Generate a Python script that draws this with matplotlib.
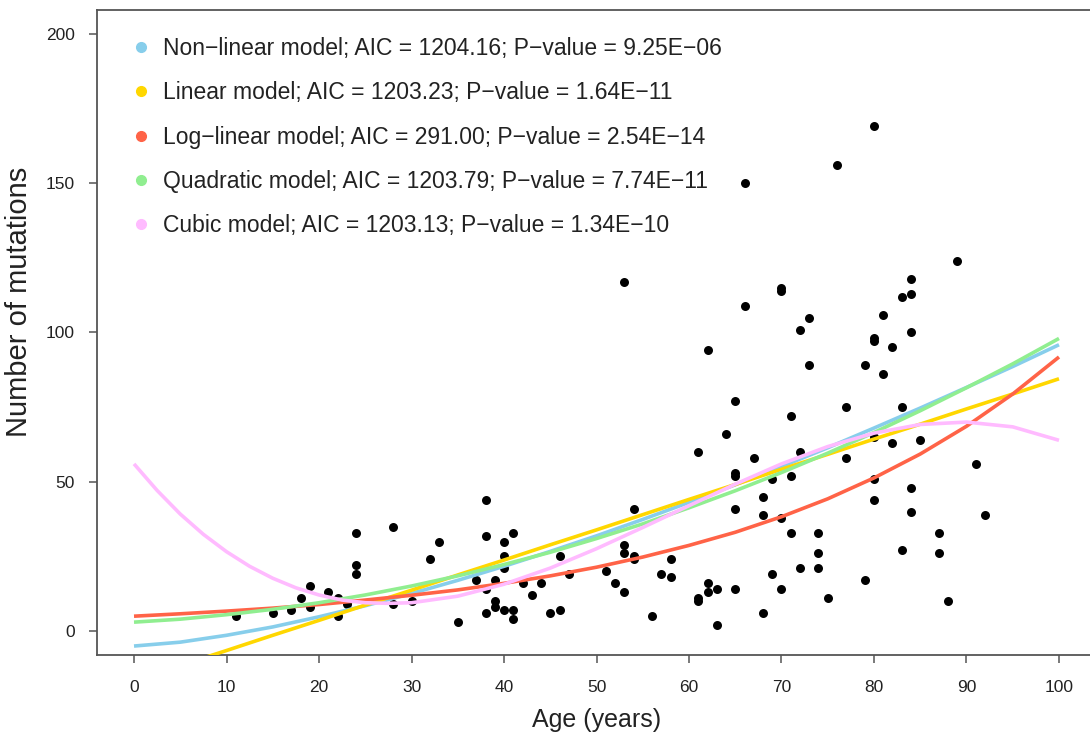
import matplotlib
matplotlib.use('Agg')
import matplotlib.pyplot as plt

plt.rcParams['font.family'] = ['Liberation Sans', 'DejaVu Sans']

# observed samples
ages = [11, 15, 17, 18, 19, 19, 21, 22, 22, 23, 24, 24, 24, 28, 28, 30, 32, 33, 35, 37,
        38, 38, 38, 38, 39, 39, 39, 40, 40, 40, 40, 41, 41, 41, 42, 43, 44, 45, 46, 46,
        47, 51, 52, 53, 53, 53, 53, 54, 54, 54, 56, 57, 58, 58, 61, 61, 61, 62, 62, 62,
        63, 63, 64, 65, 65, 65, 65, 65, 66, 66, 67, 68, 68, 68, 69, 69, 70, 70, 70, 70,
        71, 71, 71, 72, 72, 72, 73, 73, 74, 74, 74, 75, 76, 77, 77, 79, 79, 80, 80, 80,
        80, 80, 80, 81, 81, 82, 82, 83, 83, 83, 84, 84, 84, 84, 84, 85, 87, 87, 88, 89,
        91, 92]
mutations = [5, 6, 7, 11, 15, 8, 13, 11, 5, 9, 33, 22, 19, 35, 9, 10, 24, 30, 3, 17,
             44, 32, 14, 6, 17, 10, 8, 30, 25, 21, 7, 33, 7, 4, 16, 12, 16, 6, 7, 25,
             19, 20, 16, 13, 29, 26, 117, 41, 25, 24, 5, 19, 24, 18, 60, 11, 10, 94, 16, 13,
             14, 2, 66, 77, 53, 52, 41, 14, 150, 109, 58, 45, 39, 6, 51, 19, 115, 114, 38, 14,
             72, 52, 33, 101, 60, 21, 105, 89, 33, 26, 21, 11, 156, 75, 58, 89, 17, 169, 98, 97,
             65, 51, 44, 106, 86, 95, 63, 112, 75, 27, 118, 113, 100, 48, 40, 64, 33, 26, 10, 124,
             56, 39]

curve_age = [0, 5, 10, 15, 20, 25, 30, 35, 40, 45, 50, 55, 60, 65, 70, 75, 80, 85, 90, 95, 100]
nonlinear_fit = [-5.0, -3.7, -1.4, 1.4, 4.8, 8.5, 12.6, 17.0, 21.7, 26.7, 31.9, 37.4, 43.1,
                 49.0, 55.1, 61.4, 68.0, 74.7, 81.6, 88.6, 95.9]
linear_fit = [-16.6, -11.5, -6.5, -1.4, 3.6, 8.7, 13.7, 18.8, 23.8, 28.9, 33.9, 39.0, 44.1,
              49.1, 54.2, 59.2, 64.3, 69.3, 74.4, 79.4, 84.5]
loglinear_fit = [5.0, 5.8, 6.7, 7.7, 8.9, 10.4, 12.0, 13.8, 16.0, 18.5, 21.4, 24.8, 28.7,
                 33.1, 38.3, 44.3, 51.3, 59.3, 68.6, 79.4, 91.8]
quadratic_fit = [3.0, 4.0, 5.5, 7.3, 9.5, 12.1, 15.1, 18.5, 22.3, 26.4, 31.0, 35.9, 41.3,
                 47.0, 53.1, 59.6, 66.5, 73.8, 81.5, 89.5, 98.0]
# cubic bends hard at the start, so it is read more closely there
cubic_age = [0, 2.5, 5, 7.5, 10, 12.5, 15, 17.5, 20, 22.5, 25, 27.5, 30, 35, 40, 45, 50,
             55, 60, 65, 70, 75, 80, 85, 90, 95, 100]
cubic_fit = [56.0, 47.1, 39.2, 32.4, 26.6, 21.7, 17.7, 14.5, 12.1, 10.4, 9.5, 9.3, 9.5,
             11.7, 15.7, 21.1, 27.6, 34.7, 42.0, 49.2, 56.0, 61.8, 66.3, 69.2, 70.0, 68.4, 63.9]

labels = ["Non\u2212linear model; AIC = 1204.16; P\u2212value = 9.25E\u221206",
          "Linear model; AIC = 1203.23; P\u2212value = 1.64E\u221211",
          "Log\u2212linear model; AIC = 291.00; P\u2212value = 2.54E\u221214",
          "Quadratic model; AIC = 1203.79; P\u2212value = 7.74E\u221211",
          "Cubic model; AIC = 1203.13; P\u2212value = 1.34E\u221210"]
colors = ['#87CEEB', '#FFD700', '#FF6347', '#90EE90', '#FFBBFF']
fits = [(curve_age, nonlinear_fit), (curve_age, linear_fit), (curve_age, loglinear_fit),
        (curve_age, quadratic_fit), (cubic_age, cubic_fit)]

fig = plt.figure(figsize=(10.9, 7.45), dpi=100)
ax = fig.add_axes([0.089, 0.1208, 0.9165, 0.8658])

ax.scatter(ages, mutations, s=42, color='black', zorder=2, linewidths=0)
for (xs, ys), col in zip(fits, colors):
    ax.plot(xs, ys, color=col, lw=2.6, zorder=3, solid_capstyle='butt')

ax.set_xlim(-4, 104)
ax.set_ylim(-8, 208)
ax.set_xticks(range(0, 101, 10))
ax.set_yticks([0, 50, 100, 150, 200])
for sp in ax.spines.values():
    sp.set_color('#555555')
    sp.set_linewidth(1.3)
ax.tick_params(axis='both', direction='out', length=6, width=1.1, color='#555555',
               labelsize=12.5, labelcolor='#222222')
ax.tick_params(axis='x', pad=12)
ax.tick_params(axis='y', pad=10)
ax.set_xlabel("Age (years)", fontsize=18, color='#222222')
ax.set_ylabel("Number of mutations", fontsize=21, color='#222222')
ax.xaxis.set_label_coords(0.5, -0.082)
ax.yaxis.set_label_coords(-0.064, 0.547)

handles = [plt.Line2D([], [], marker='o', ls='', color=c, markersize=7) for c in colors]
ax.legend(handles, labels, loc='upper left', bbox_to_anchor=(0.012, 0.99), frameon=False,
          fontsize=16.5, handletextpad=0.46, labelspacing=0.93, handlelength=1.0,
          labelcolor='#222222')

fig.savefig('out.png', dpi=100)
